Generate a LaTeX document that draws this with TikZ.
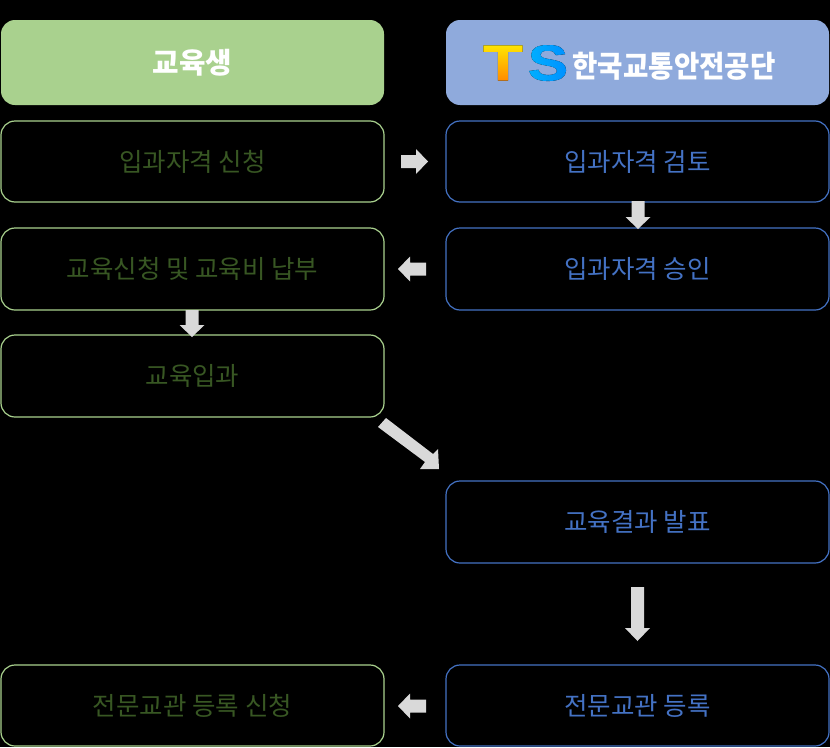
\documentclass[tikz,border=0pt]{standalone}
\usepackage{fontspec}
\setmainfont{Noto Sans CJK KR}
\newfontfamily\logofont[BoldFeatures={FakeBold=1.5}]{Liberation Sans}
\usetikzlibrary{fadings}
\definecolor{gfill}{HTML}{A9D18E}
\definecolor{gtext}{HTML}{385723}
\definecolor{bfill}{HTML}{8FAADC}
\definecolor{bline}{HTML}{4472C4}
\definecolor{arr}{HTML}{D9D9D9}
\tikzset{
 x=1pt,y=-1pt,
 box/.style={rounded corners=14pt,minimum width=383pt,inner sep=0pt,anchor=center,font=\fontsize{25.5}{26}\selectfont},
 gbox/.style={box,draw=gfill,line width=1.2pt,text=gtext},
 bbox/.style={box,draw=bline,line width=1.2pt,text=bline},
 blockarrow/.style={fill=arr,draw=none},
}
% #1 name, #2 centre, #3 angle, #4 length, #5 head width, #6 shaft width, #7 head length
\newcommand{\blockarr}[7]{%
 \coordinate (#1) at (#2);
 \fill[blockarrow,shift={(#1)},rotate=#3]
   (-#4/2,-#6/2) -- (#4/2-#7,-#6/2) -- (#4/2-#7,-#5/2) -- (#4/2,0) -- (#4/2-#7,#5/2) -- (#4/2-#7,#6/2) -- (-#4/2,#6/2) -- cycle;
}
\begin{tikzfadingfrompicture}[name=tfade,x=1pt,y=-1pt]
 \node[text=transparent!0,font=\logofont\bfseries\fontsize{50}{50}\selectfont,inner sep=0pt,xscale=1.3] at (0,0) {T};
\end{tikzfadingfrompicture}
\begin{tikzfadingfrompicture}[name=sfade,x=1pt,y=-1pt]
 \node[text=transparent!0,font=\logofont\bfseries\fontsize{50}{50}\selectfont,inner sep=0pt,xscale=1.2] at (0,0) {S};
\end{tikzfadingfrompicture}
\begin{document}
\begin{tikzpicture}
\useasboundingbox (0,0) rectangle (830,747);
\fill[black] (0,0) rectangle (830,747);
% headers
\node[box,fill=gfill,minimum height=85pt,text=white,font=\bfseries\fontsize{28.8}{29}\selectfont] (hg) at (192.5,62.5) {교육생};
\node[box,fill=bfill,minimum height=85pt] (hb) at (637.5,62.5) {};
\node[text=white,inner sep=0pt,font=\bfseries\fontsize{30}{30}\selectfont,xscale=0.92] (logotext) at (674,66) {한국교통안전공단};
% left boxes
\node[gbox,minimum height=81pt] (g1) at (192.5,161.5) {입과자격 신청};
\node[gbox,minimum height=82pt] (g2) at (192.5,269) {교육신청 및 교육비 납부};
\node[gbox,minimum height=82pt] (g3) at (192.5,376) {교육입과};
\node[gbox,minimum height=81pt] (g4) at (192.5,705.5) {전문교관 등록 신청};
% right boxes
\node[bbox,minimum height=81pt] (b1) at (637.5,161.5) {입과자격 검토};
\node[bbox,minimum height=82pt] (b2) at (637.5,269) {입과자격 승인};
\node[bbox,minimum height=82pt] (b3) at (637.5,522) {교육결과 발표};
\node[bbox,minimum height=81pt] (b4) at (637.5,705.5) {전문교관 등록};
% arrows
\blockarr{a1}{414.5,161.5}{0}{27}{25}{13}{12}
\blockarr{a2}{412,269}{180}{28}{25}{13}{12}
\blockarr{a3}{192,323.5}{-90}{27}{25}{13}{12}
\blockarr{a4}{638,215}{-90}{28}{25}{13}{12}
\blockarr{a5}{637.5,614}{-90}{54}{25}{13}{13}
\blockarr{a6}{412,706}{180}{28}{25}{13}{12}
\fill[blockarrow] (378,427) -- (386,418) -- (433,454) -- (438,449) -- (439,469) -- (420,469) -- (425,462) -- cycle;
% logo
\fill[top color=yellow!90!orange,bottom color=orange,path fading=tfade,fit fading=false,fading transform={shift={(503,63)}}] (478,40) rectangle (528,85);
\fill[left color=cyan!70!blue,right color=cyan!55!blue,path fading=sfade,fit fading=false,fading transform={shift={(548,63)}}] (525,40) rectangle (572,85);
\end{tikzpicture}
\end{document}
